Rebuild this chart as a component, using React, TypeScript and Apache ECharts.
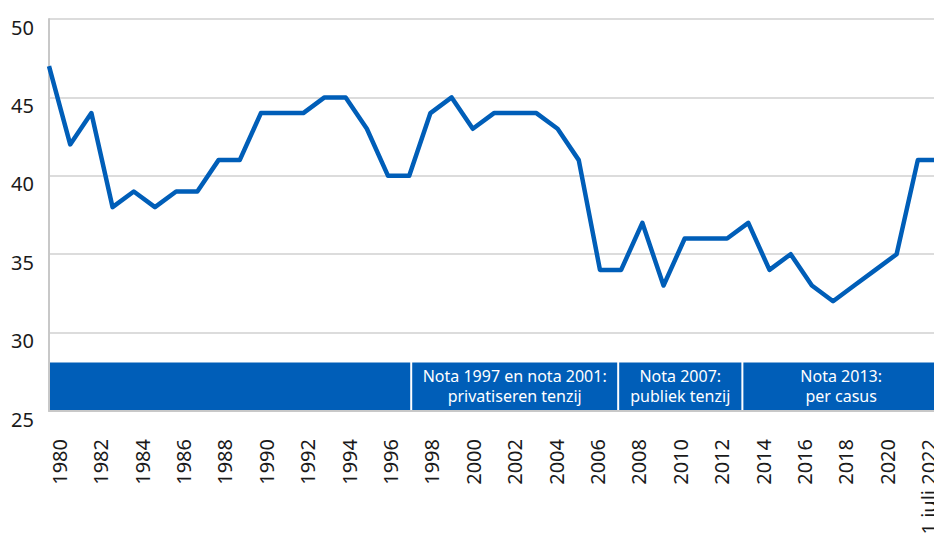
import React, { useEffect, useRef } from "react";
import * as echarts from "echarts";

const categories: string[] = [
  "1980", "1981", "1982", "1983", "1984", "1985", "1986", "1987", "1988", "1989",
  "1990", "1991", "1992", "1993", "1994", "1995", "1996", "1997", "1998", "1999",
  "2000", "2001", "2002", "2003", "2004", "2005", "2006", "2007", "2008", "2009",
  "2010", "2011", "2012", "2013", "2014", "2015", "2016", "2017", "2018", "2019",
  "2020", "2021", "1 juli 2022",
];

const values: number[] = [
  47, 42, 44, 38, 39, 38, 39, 39, 41, 41,
  44, 44, 44, 45, 45, 43, 40, 40, 44, 45,
  43, 44, 44, 44, 43, 41, 34, 34, 37, 33,
  36, 36, 36, 37, 34, 35, 33, 32, 33, 34,
  35, 41, 41,
];

// policy periods: start category, end category, label
const bandStarts: string[] = ["1980", "1997", "2007", "2013"];
const bandEnds: string[] = ["1997", "2007", "2013", "1 juli 2022"];
const bandLabels: string[] = [
  "",
  "Nota 1997 en nota 2001:\nprivatiseren tenzij",
  "Nota 2007:\npubliek tenzij",
  "Nota 2013:\nper casus",
];
const bandTop = 28.1;

const yMin = 25;
const yMax = 50;
const yStep = 5;

const BLUE = "#005EB8";
const FONT = "Noto Sans";

export default function App() {
  const ref = useRef<HTMLDivElement>(null);

  useEffect(() => {
    if (!ref.current) return;
    const chart = echarts.init(ref.current, undefined, { renderer: "svg" });

    const bandData = bandStarts.map((s, i) => [
      categories.indexOf(s),
      categories.indexOf(bandEnds[i]),
      i,
    ]);

    const option: any = {
      animation: false,
      grid: { left: 49, right: 1, top: 19, bottom: 128, containLabel: false },
      xAxis: [
        {
          type: "category",
          data: categories,
          boundaryGap: true,
          axisLine: { show: true, lineStyle: { color: "#c8c8c8", width: 2 } },
          axisTick: { show: false },
          axisLabel: {
            interval: 1,
            rotate: 90,
            margin: 28,
            color: "#1a1a1a",
            fontSize: 20,
            fontFamily: FONT,
          },
          splitLine: { show: false },
        },
        {
          type: "category",
          data: categories,
          boundaryGap: false,
          show: false,
        },
      ],
      yAxis: {
        type: "value",
        min: yMin,
        max: yMax,
        interval: yStep,
        axisLine: { show: true, lineStyle: { color: "#c8c8c8", width: 2 } },
        axisTick: { show: false },
        axisLabel: {
          margin: 15,
          color: "#1a1a1a",
          fontSize: 20,
          fontFamily: FONT,
          verticalAlign: "top",
          lineHeight: 16,
        },
        splitLine: { show: true, lineStyle: { color: "#d0d0d0", width: 1.5 } },
      },
      series: [
        {
          type: "custom",
          xAxisIndex: 0,
          yAxisIndex: 0,
          data: bandData,
          encode: { x: [0, 1] },
          z: 1,
          renderItem: (params: any, api: any) => {
            const si = api.value(0);
            const ei = api.value(1);
            const idx = api.value(2);
            const cs = params.coordSys;
            const bw = api.size([1, 0])[0];
            let x0 = api.coord([si, yMin])[0];
            let x1 = api.coord([ei, yMin])[0];
            if (idx === 0) x0 = cs.x + 1;
            else x0 = x0 + 1;
            if (idx === bandStarts.length - 1) x1 = cs.x + cs.width;
            else x1 = x1 - 1;
            const yTop = api.coord([si, bandTop])[1];
            const yBot = api.coord([si, yMin])[1] - 1;
            const label = bandLabels[idx];
            const textCenterX =
              idx === bandStarts.length - 1
                ? (x0 + api.coord([ei, yMin])[0] + bw / 2) / 2
                : (x0 + x1) / 2;
            return {
              type: "group",
              children: [
                {
                  type: "rect",
                  shape: { x: x0, y: yTop, width: x1 - x0, height: yBot - yTop },
                  style: { fill: BLUE },
                },
                {
                  type: "text",
                  style: {
                    text: label,
                    x: textCenterX,
                    y: (yTop + yBot) / 2,
                    fill: "#ffffff",
                    fontSize: 16,
                    fontFamily: FONT,
                    lineHeight: 20,
                    align: "center",
                    verticalAlign: "middle",
                  },
                },
              ],
            };
          },
        },
        {
          type: "line",
          xAxisIndex: 1,
          yAxisIndex: 0,
          data: values,
          showSymbol: false,
          symbol: "none",
          lineStyle: { color: BLUE, width: 4.5, join: "round" },
          z: 3,
        },
      ],
    };

    chart.setOption(option);
    return () => chart.dispose();
  }, []);

  return (
    <div
      ref={ref}
      style={{ position: "fixed", left: 0, top: 0, width: 940, height: 539, background: "#fff" }}
    />
  );
}
